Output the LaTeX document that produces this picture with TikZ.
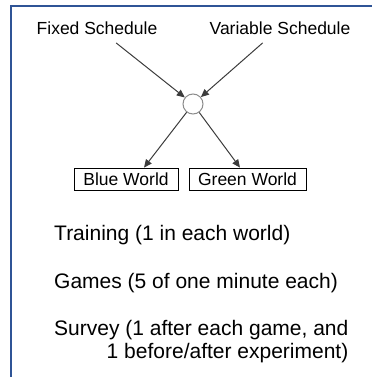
\documentclass[tikz,border=0pt]{standalone}
\usepackage{fontspec}
\setmainfont{Liberation Sans}
\usetikzlibrary{arrows.meta,calc}
\definecolor{framecol}{RGB}{47,84,150}
\definecolor{linecol}{RGB}{60,60,60}
\definecolor{circcol}{RGB}{140,140,140}
\tikzset{
  lbl/.style={font=\fontsize{17.5bp}{20bp}\selectfont, text height=12.6bp, text depth=0bp, inner xsep=2bp, inner ysep=8.7bp},
  worldbox/.style={draw=black, line width=0.8bp, minimum height=22bp, inner sep=0bp, font=\fontsize{17.5bp}{20bp}\selectfont},
  hub/.style={circle, draw=circcol, line width=1bp, minimum size=20bp, inner sep=0bp},
  arr/.style={draw=linecol, line width=1bp, -{Triangle[length=8bp,width=7bp]}},
  listtxt/.style={font=\fontsize{21bp}{23bp}\selectfont, inner sep=0bp},
  framebar/.style={draw=framecol, line width=1.6bp}
}
\begin{document}
\begin{tikzpicture}[x=1bp,y=1bp]
\useasboundingbox (0,0) rectangle (372,377);
\draw[framebar] (11,0) -- (11,371) -- (373,371);

\node[lbl] (fixed) at (97,349.3) {Fixed Schedule};
\node[lbl] (variable) at (280,349.3) {Variable Schedule};
\node[hub] (circ) at (193,273) {};
\node[worldbox, minimum width=104bp] (blue) at (126,198) {Blue World};
\node[worldbox, minimum width=117bp] (green) at (247.5,198) {Green World};

\draw[arr] (fixed) -- (circ);
\draw[arr] (variable) -- (circ);
\draw[arr] (circ) -- ([xshift=18bp]blue.north);
\draw[arr] (circ) -- ([xshift=-7.5bp]green.north);

\node[listtxt, anchor=base west] (training) at (54,137) {Training (1 in each world)};
\node[listtxt, anchor=base west] (games) at (54,89) {Games (5 of one minute each)};
\node[listtxt, anchor=base west] (survey1) at (54,42) {Survey (1 after each game, and};
\node[listtxt, anchor=base east] (survey2) at ([yshift=-23bp]survey1.base east) {1 before/after experiment)};
\end{tikzpicture}
\end{document}
